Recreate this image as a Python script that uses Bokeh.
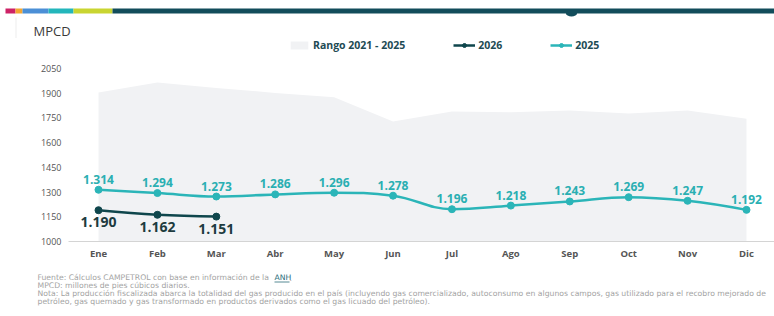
from bokeh.plotting import figure
from bokeh.layouts import column
from bokeh.models import (ColumnDataSource, Range1d, FixedTicker, Legend, LegendItem)
from bokeh.embed import file_html
from bokeh.resources import INLINE
from bokeh.core.properties import value

# ---------------- data ----------------
months = ["Ene", "Feb", "Mar", "Abr", "May", "Jun", "Jul", "Ago", "Sep", "Oct", "Nov", "Dic"]
rango_max = [1905, 1965, 1932, 1902, 1875, 1728, 1789, 1784, 1795, 1777, 1795, 1745]
serie_2025 = [1314, 1294, 1273, 1286, 1296, 1278, 1196, 1218, 1243, 1269, 1247, 1192]
serie_2026 = [1190, 1162, 1151]
y_ticks = [1000, 1150, 1300, 1450, 1600, 1750, 1900, 2050]

footnotes = [
    "Fuente: Cálculos CAMPETROL con base en información de la",
    "MPCD: millones de pies cúbicos diarios.",
    "Nota: La producción fiscalizada abarca la totalidad del gas producido en el país (incluyendo gas comercializado, autoconsumo en algunos campos, gas utilizado para el recobro mejorado de",
    "petróleo, gas quemado y gas transformado en productos derivados como el gas licuado del petróleo).",
]
source_link = "ANH"

# decorative header stripe (page px) and colours
stripe_left = [5, 15, 22, 48, 73, 112]
stripe_right = [15, 22, 48, 73, 112, 774]
stripe_colors = ["#cd2266", "#f3a531", "#4b8fd6", "#23b6bb", "#c9d531", "#124d5b"]

# ---------------- layout ----------------
W, H = 774, 316
TOP_H, BOT_H = 38, 48
MAIN_H = H - TOP_H - BOT_H
F_LEFT, F_BOTTOM = 68, 241                      # frame edges in page px
X0_PX, X11_PX = 98, 746                         # Ene / Dic centres in page px
Y_LO, Y_HI, Y_LO_PX, Y_HI_PX = 1000, 2050, 241, 68

FONT = "Open Sans"
NOTE_FONT = "DejaVu Sans"
TEAL = "#2bb5b8"
DARK = "#0f464c"
TEAL_TXT = "#2aafb2"
DARK_TXT = "#1d3b3f"
LINK = "#2b6d78"


def deco_fig(height, y_top):
    f = figure(width=W, height=height, output_backend="svg", toolbar_location=None,
               x_range=Range1d(0, W), y_range=Range1d(y_top + height, y_top),
               x_axis_type=None, y_axis_type=None, min_border=0, frame_align=False)
    f.outline_line_color = None
    f.grid.visible = False
    return f


# ---------- header ----------
p_top = deco_fig(TOP_H, 0)
p_top.quad(left=stripe_left, right=stripe_right, top=8, bottom=13,
           fill_color=stripe_colors, line_color=None)
p_top.ellipse(x=[571], y=[13], width=11, height=6, fill_color=stripe_colors[-1], line_color=None)
p_top.quad(left=[15], right=[16], top=[17], bottom=[TOP_H], fill_color="#eeeeee", line_color=None)
p_top.text(x=[33], y=[30], text=["MPCD"], text_font=value(FONT), text_font_size="13px",
           text_color="#3a3a3a", text_baseline="middle")

# ---------- main chart ----------
frame_w = W - F_LEFT
xpp = (X11_PX - X0_PX) / (len(months) - 1)
x_start = -(X0_PX - F_LEFT) / xpp
x_end = x_start + frame_w / xpp
ypp = (Y_LO_PX - Y_HI_PX) / (Y_HI - Y_LO)
y_end = Y_LO + (F_BOTTOM - TOP_H) / ypp

p = figure(width=W, height=MAIN_H, output_backend="svg", toolbar_location=None,
           x_range=Range1d(x_start, x_end), y_range=Range1d(Y_LO, y_end),
           min_border_left=F_LEFT, min_border_right=0,
           min_border_top=0, min_border_bottom=TOP_H + MAIN_H - F_BOTTOM,
           frame_align=False)
p.outline_line_color = None
p.grid.visible = False


def spline(xs, ys, smoothing=1.5):
    """Highcharts-style spline control points -> bezier segments."""
    n = len(xs)
    denom = smoothing + 1
    left = [(x, y) for x, y in zip(xs, ys)]
    right = [(x, y) for x, y in zip(xs, ys)]
    for i in range(1, n - 1):
        x, y = xs[i], ys[i]
        lx, ly = xs[i - 1], ys[i - 1]
        nx, ny = xs[i + 1], ys[i + 1]
        lcx = (smoothing * x + lx) / denom
        lcy = (smoothing * y + ly) / denom
        rcx = (smoothing * x + nx) / denom
        rcy = (smoothing * y + ny) / denom
        corr = 0
        if rcx != lcx:
            corr = ((rcy - lcy) * (rcx - x)) / (rcx - lcx) + y - rcy
        lcy += corr
        rcy += corr
        if lcy > ly and lcy > y:
            lcy = max(ly, y)
            rcy = 2 * y - lcy
        elif lcy < ly and lcy < y:
            lcy = min(ly, y)
            rcy = 2 * y - lcy
        if rcy > ny and rcy > y:
            rcy = max(ny, y)
            lcy = 2 * y - rcy
        elif rcy < ny and rcy < y:
            rcy = min(ny, y)
            lcy = 2 * y - rcy
        left[i] = (lcx, lcy)
        right[i] = (rcx, rcy)
    d = dict(x0=[], y0=[], x1=[], y1=[], cx0=[], cy0=[], cx1=[], cy1=[])
    for i in range(n - 1):
        d["x0"].append(xs[i]); d["y0"].append(ys[i])
        d["x1"].append(xs[i + 1]); d["y1"].append(ys[i + 1])
        d["cx0"].append(right[i][0]); d["cy0"].append(right[i][1])
        d["cx1"].append(left[i + 1][0]); d["cy1"].append(left[i + 1][1])
    return ColumnDataSource(d)


def fmt(v):
    return f"{v:,}".replace(",", ".")


idx = list(range(len(months)))
idx26 = list(range(len(serie_2026)))

band = p.varea(x=idx, y1=Y_LO, y2=rango_max, fill_color="#f1f2f4")

src25 = ColumnDataSource(dict(x=idx, y=serie_2025, t=[fmt(v) for v in serie_2025]))
l25 = p.bezier(x0="x0", y0="y0", x1="x1", y1="y1", cx0="cx0", cy0="cy0", cx1="cx1", cy1="cy1",
               source=spline(idx, serie_2025), line_color=TEAL, line_width=2.5)
s25 = p.scatter(x="x", y="y", source=src25, size=7, fill_color=TEAL, line_color=TEAL)
p.text(x="x", y="y", text="t", source=src25, text_font=value(FONT), text_font_style="bold",
       text_font_size="12px", text_color=TEAL_TXT, text_align="center",
       text_baseline="bottom", y_offset=-6)

src26 = ColumnDataSource(dict(x=idx26, y=serie_2026, t=[fmt(v) for v in serie_2026]))
l26 = p.bezier(x0="x0", y0="y0", x1="x1", y1="y1", cx0="cx0", cy0="cy0", cx1="cx1", cy1="cy1",
               source=spline(idx26, serie_2026), line_color=DARK, line_width=2.5)
s26 = p.scatter(x="x", y="y", source=src26, size=7, fill_color=DARK, line_color=DARK)
p.text(x="x", y="y", text="t", source=src26, text_font=value(FONT), text_font_style="bold",
       text_font_size="14px", text_color=DARK_TXT, text_align="center",
       text_baseline="top", y_offset=7)

xa = p.xaxis[0]
xa.ticker = FixedTicker(ticks=idx)
xa.major_label_overrides = {i: m for i, m in enumerate(months)}
xa.axis_line_color = "#d4d4d4"
xa.major_tick_line_color = None
xa.minor_tick_line_color = None
xa.major_tick_out = 0
xa.minor_tick_out = 0
xa.major_label_standoff = 5
xa.major_label_text_font = FONT
xa.major_label_text_font_style = "bold"
xa.major_label_text_font_size = "9.5px"
xa.major_label_text_color = "#555555"

ya = p.yaxis[0]
ya.ticker = FixedTicker(ticks=y_ticks)
ya.axis_line_color = None
ya.major_tick_line_color = None
ya.minor_tick_line_color = None
ya.major_tick_out = 0
ya.minor_tick_out = 0
ya.major_label_standoff = 7
ya.major_label_text_font = FONT
ya.major_label_text_font_size = "9px"
ya.major_label_text_color = "#555555"

legend = Legend(items=[LegendItem(label="Rango 2021 - 2025", renderers=[band]),
                       LegendItem(label="2026", renderers=[l26, s26]),
                       LegendItem(label="2025", renderers=[l25, s25])],
                orientation="horizontal", location=(288 - F_LEFT, F_BOTTOM - 52), spacing=48,
                glyph_width=22, glyph_height=10, label_standoff=3, padding=0, margin=0,
                border_line_color=None, background_fill_alpha=0,
                label_text_font=FONT, label_text_font_style="bold",
                label_text_font_size="10.5px", label_text_color="#1e4b54",
                label_height=12)
p.add_layout(legend)

# ---------- footnotes ----------
p_bot = deco_fig(BOT_H, TOP_H + MAIN_H)
p_bot.text(x=[37] * len(footnotes), y=[277 + 8 * i for i in range(len(footnotes))],
           text=footnotes, text_font=value(NOTE_FONT), text_font_size="7.7px",
           text_color="#a3a3a3", text_baseline="middle")
p_bot.text(x=[274], y=[277], text=[source_link], text_font=value(NOTE_FONT),
           text_font_size="7.7px", text_color=LINK, text_baseline="middle")
p_bot.text(x=[289], y=[277], text=["."], text_font=value(NOTE_FONT),
           text_font_size="7.7px", text_color="#a3a3a3", text_baseline="middle")
p_bot.segment(x0=[274], y0=[281.5], x1=[289], y1=[281.5], line_color=LINK, line_width=0.8)

layout = column(p_top, p, p_bot, spacing=0)
open("out.html", "w").write(file_html(layout, INLINE))
